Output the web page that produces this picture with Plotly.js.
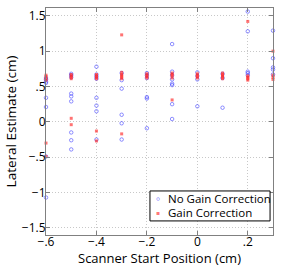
<!DOCTYPE html>
<html>
<head>
<meta charset="utf-8">
<script src="https://cdn.plot.ly/plotly-3.0.1.min.js"></script>
<style>html,body{margin:0;padding:0;background:#fff;}#chart{width:305px;height:267px;}</style>
</head>
<body>
<div id="chart"></div>
<script>
// Scanner start positions (cm) and lateral estimates (cm)
const xNoGain = [
  -0.6,-0.6,-0.6,-0.6,-0.6,-0.6,-0.6,-0.6,
  -0.5,-0.5,-0.5,-0.5,-0.5,-0.5,-0.5,-0.5,-0.5,
  -0.4,-0.4,-0.4,-0.4,-0.4,-0.4,-0.4,-0.4,
  -0.3,-0.3,-0.3,-0.3,-0.3,-0.3,
  -0.2,-0.2,-0.2,-0.2,-0.2,-0.2,
  -0.1,-0.1,-0.1,-0.1,-0.1,-0.1,-0.1,-0.1,
  0,0,0,0,
  0.1,0.1,0.1,
  0.2,0.2,0.2,0.2,0.2,
  0.3,0.3,0.3,0.3,0.3
];
const yNoGain = [
  0.62,0.60,0.57,0.55,0.34,0.21,-0.49,-1.07,
  0.68,0.66,0.63,0.40,0.36,0.29,-0.15,-0.26,-0.39,
  0.78,0.67,0.64,0.61,0.34,0.23,0.15,-0.25,
  0.69,0.59,0.47,0.10,-0.02,-0.25,
  0.69,0.66,0.62,0.35,0.33,-0.09,
  1.10,0.71,0.66,0.60,0.54,0.52,0.25,0.04,
  0.70,0.65,0.60,0.22,
  0.68,0.62,0.20,
  1.56,1.28,0.71,0.69,0.66,
  1.29,0.90,0.77,0.74,0.67
];
const xGain = [
  -0.6,-0.6,-0.6,-0.6,-0.6,-0.6,
  -0.5,-0.5,-0.5,-0.5,-0.5,-0.5,
  -0.4,-0.4,-0.4,-0.4,-0.4,-0.4,
  -0.3,-0.3,-0.3,-0.3,-0.3,-0.3,-0.3,
  -0.2,-0.2,-0.2,-0.2,
  -0.1,-0.1,-0.1,-0.1,-0.1,
  0,0,0,0,
  0.1,0.1,0.1,0.1,0.1,
  0.2,0.2,0.2,0.2,0.2,
  0.3,0.3,0.3,0.3
];
const yGain = [
  0.66,0.64,0.61,0.59,-0.30,-0.49,
  0.67,0.65,0.63,0.61,0.05,-0.04,
  0.67,0.65,0.63,0.61,-0.13,-0.27,
  1.23,0.70,0.67,0.65,0.63,0.61,-0.17,
  0.68,0.66,0.64,0.62,
  0.69,0.67,0.65,0.62,0.31,
  0.68,0.66,0.64,0.62,
  0.69,0.67,0.65,0.63,0.61,
  1.42,0.65,0.63,0.61,0.59,
  1.00,0.66,0.63,0.60
];
const seriesNames = ['No Gain Correction', 'Gain Correction'];
const seriesColors = ['rgba(70,70,255,0.6)', 'rgba(255,40,40,0.65)'];
const xTickVals = [-0.6,-0.4,-0.2,0,0.2];
const xTickText = ['\u2212.6','\u2212.4','\u2212.2','0','.2'];
const yTickVals = [-1.5,-1,-0.5,0,0.5,1,1.5];
const yTickText = ['\u22121.5','\u22121','\u2212.5','0','.5','1','1.5'];

const fam = 'Open Sans, Liberation Sans, sans-serif';

const traces = [
  {x: xNoGain, y: yNoGain, type: 'scatter', mode: 'markers', name: seriesNames[0],
   cliponaxis: false,
   marker: {symbol: 'circle-open', size: 3.5, color: seriesColors[0], line: {width: 1}}},
  {x: xGain, y: yGain, type: 'scatter', mode: 'markers', name: seriesNames[1],
   cliponaxis: false,
   marker: {symbol: 'square', size: 3, color: seriesColors[1]}}
];

// legend box (MATLAB-style compact legend)
const lx0 = 0.458, lx1 = 0.987, ly0 = 0.062, ly1 = 0.194;
const rowY = [0.159, 0.097];
const annotations = [];
seriesNames.forEach((n, i) => {
  annotations.push({xref: 'paper', yref: 'paper', x: 0.494, y: rowY[i], text: i === 0 ? '\u2218' : '\u25AA',
    showarrow: false, xanchor: 'center', yanchor: 'middle',
    font: {family: 'DejaVu Sans', size: i === 0 ? 10 : 6, color: seriesColors[i]}});
  annotations.push({xref: 'paper', yref: 'paper', x: 0.527, y: rowY[i], text: n,
    showarrow: false, xanchor: 'left', yanchor: 'middle',
    font: {family: fam, size: 11.5, color: '#000'}});
});

const layout = {
  width: 305, height: 267,
  margin: {l: 46, r: 32, t: 8, b: 32},
  paper_bgcolor: '#fff', plot_bgcolor: '#fff',
  font: {family: fam, size: 12, color: '#000'},
  showlegend: false,
  shapes: [{type: 'rect', xref: 'paper', yref: 'paper', x0: lx0, x1: lx1, y0: ly0, y1: ly1,
            line: {color: '#000', width: 1}, fillcolor: '#fff', layer: 'above'}],
  annotations: annotations,
  xaxis: {range: [-0.6, 0.3], tickvals: xTickVals, ticktext: xTickText,
          showline: true, linecolor: '#808080', linewidth: 1, mirror: 'ticks',
          ticks: 'inside', ticklen: 4, tickcolor: '#808080', ticklabelstandoff: -4,
          showgrid: true, gridcolor: '#c8c8c8', griddash: '1px,2px', gridwidth: 1,
          zeroline: false, tickfont: {size: 12},
          title: {text: 'Scanner Start Position (cm)', font: {size: 13}, standoff: 3}},
  yaxis: {range: [-1.6, 1.61], tickvals: yTickVals, ticktext: yTickText,
          showline: true, linecolor: '#808080', linewidth: 1, mirror: 'ticks',
          ticks: 'inside', ticklen: 4, tickcolor: '#808080', ticklabelstandoff: -3,
          showgrid: true, gridcolor: '#c8c8c8', griddash: '1px,2px', gridwidth: 1,
          zeroline: false, tickfont: {size: 12},
          title: {text: 'Lateral Estimate (cm)', font: {size: 13.5}, standoff: 2}}
};

Plotly.newPlot('chart', traces, layout, {displayModeBar: false, staticPlot: true});
</script>
</body>
</html>
